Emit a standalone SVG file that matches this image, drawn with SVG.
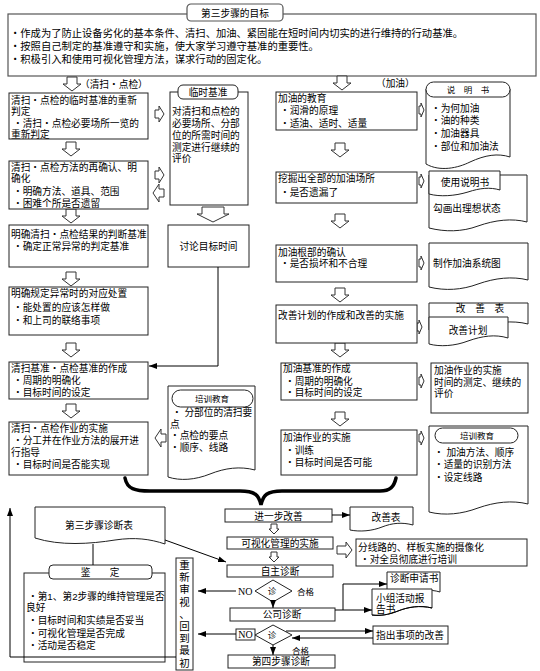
<svg xmlns="http://www.w3.org/2000/svg" width="540" height="671" viewBox="0 0 540 671">
<style>
.t{font-family:"Liberation Sans","Noto Sans CJK SC",sans-serif;font-size:9.7px;fill:#000}
.top{font-size:10.3px}
.sm{font-size:8.5px}
.c{text-anchor:middle}
.serif{font-family:"Liberation Serif","Noto Sans CJK SC",serif;font-size:10px}
.box{fill:#fff;stroke:#222;stroke-width:1}
.gbox{fill:#fff;stroke:#555;stroke-width:1.2}
.ba{fill:#fff;stroke:#333;stroke-width:1}
.ln{fill:none;stroke:#000;stroke-width:1}
.brace{fill:none;stroke:#000;stroke-width:3.5;stroke-linecap:round}
</style>
<defs>
<marker id="ah" markerWidth="8" markerHeight="6" refX="8" refY="3" orient="auto" markerUnits="userSpaceOnUse"><path d="M0,0 L8,3 L0,6 Z" fill="#000"/></marker>
<path id="dA" d="M-5,0 H5 V7 H9 L0,14 L-9,7 H-5 Z"/>
<path id="dW" d="M-11,0 H11 V7 H16 L0,15 L-16,7 H-11 Z"/>
<path id="rA" d="M0,-4 H4 V-8 L9,0 L4,8 V4 H0 Z"/>
<path id="lA" d="M0,-4 H-5 V-9 L-11,0 L-5,9 V4 H0 Z"/>
<path id="nA" d="M0,-4 H2 V-7 L5,0 L2,7 V4 H0 Z"/>
<path id="sdA" d="M-3,0 H3 V5 H5 L0,10 L-5,5 H-3 Z"/>
<path id="rW" d="M0,-4 H9 V-8 L15,0 L9,8 V4 H0 Z"/>
</defs>
<rect width="540" height="671" fill="#fff"/>

<g id="goal">
<rect class="gbox" x="8" y="14" width="528" height="62"/>
<rect class="gbox" x="187" y="4" width="96" height="17" rx="4"/>
<text class="t" x="235" y="16.5" text-anchor="middle">第三步骤的目标</text>
<text class="t top" x="10" y="37">・作成为了防止设备劣化的基本条件、清扫、加油、紧固能在短时间内切实的进行维持的行动基准。</text>
<text class="t top" x="10" y="50">・按照自己制定的基准遵守和实施，使大家学习遵守基准的重要性。</text>
<text class="t top" x="10" y="63">・积极引入和使用可视化管理方法，谋求行动的固定化。</text>
</g>

<g id="block-arrows" class="ba">
<use href="#dA" x="72" y="77"/>
<use href="#dA" x="71" y="142"/>
<use href="#dA" x="71" y="209"/>
<use href="#dA" x="71" y="272"/>
<use href="#dA" x="71" y="343"/>
<use href="#dA" x="71" y="404"/>
<use href="#dW" x="213" y="207"/>
<use href="#rA" x="155" y="114"/>
<use href="#rA" x="155" y="175"/>
<use href="#lA" x="164" y="193"/>
<use href="#lA" x="166" y="438"/>
<use href="#dA" x="342" y="76"/>
<use href="#dA" x="340" y="143"/>
<use href="#dA" x="340" y="214"/>
<use href="#dA" x="340" y="288"/>
<use href="#dA" x="340" y="343"/>
<use href="#dA" x="340" y="412"/>
<use href="#nA" x="419" y="110"/>
<use href="#nA" x="419" y="181"/>
<use href="#nA" x="419" y="263"/>
<use href="#nA" x="417" y="327"/>
<use href="#nA" x="419" y="381"/>
<use href="#nA" x="419" y="438"/>
<use href="#sdA" x="274" y="524"/>
<use href="#sdA" x="274" y="552"/>
<use href="#rW" x="337" y="550"/>
</g>

<g id="labels">
<text class="t" x="80" y="88">（清扫・点检）</text>
<text class="t" x="376" y="87">（加油）</text>
</g>

<g id="a1">
<rect class="box" x="9" y="93" width="139" height="46"/>
<text class="t" x="11" y="104">清扫・点检的临时基准的重新</text>
<text class="t" x="11" y="115">判定</text>
<text class="t" x="13" y="127">・清扫・点检必要场所一览的</text>
<text class="t" x="11" y="138">重新判定</text>
</g>
<g id="a2">
<rect class="box" x="9" y="161" width="139" height="48"/>
<text class="t" x="11" y="171">清扫・点检方法的再确认、明</text>
<text class="t" x="11" y="182">确化</text>
<text class="t" x="13" y="195">・明确方法、道具、范围</text>
<text class="t" x="13" y="206.5">・困难个所是否遗留</text>
</g>
<g id="a3">
<rect class="box" x="9" y="225" width="139" height="42"/>
<text class="t" x="11" y="238">明确清扫・点检结果的判断基准</text>
<text class="t" x="13" y="250">・确定正常异常的判定基准</text>
</g>
<g id="a4">
<rect class="box" x="9" y="287" width="139" height="48"/>
<text class="t" x="11" y="297">明确规定异常时的对应处置</text>
<text class="t" x="13" y="311">・能处置的应该怎样做</text>
<text class="t" x="13" y="324">・和上司的联络事项</text>
</g>
<g id="a5">
<rect class="box" x="9" y="362" width="139" height="37"/>
<text class="t" x="11" y="372">清扫基准・点检基准的作成</text>
<text class="t" x="13" y="384">・周期的明确化</text>
<text class="t" x="13" y="396">・目标时间的设定</text>
</g>
<g id="a6">
<rect class="box" x="9" y="422" width="139" height="53"/>
<text class="t" x="11" y="432">清扫・点检作业的实施</text>
<text class="t" x="13" y="444">・分工并在作业方法的展开进</text>
<text class="t" x="11" y="456">行指导</text>
<text class="t" x="13" y="468">・目标时间是否能实现</text>
</g>

<g id="temp-std">
<rect class="box" x="170" y="92" width="78" height="113"/>
<rect class="box" x="178" y="85" width="60" height="14" rx="5"/>
<text class="t c" x="208" y="96">临时基准</text>
<text class="t" x="172" y="115">对清扫和点检的</text>
<text class="t" x="172" y="127">必要场所、分部</text>
<text class="t" x="172" y="139">位的所需时间的</text>
<text class="t" x="172" y="151">测定进行继续的</text>
<text class="t" x="172" y="162">评价</text>
</g>
<g id="target-time">
<rect class="box" x="168" y="225" width="81" height="42"/>
<text class="t c" x="208.5" y="250">讨论目标时间</text>
</g>
<g id="train-left">
<path class="box" d="M168,386 H255 V470 C240,466 225,468 210,474 C195,480 180,481 168,477 Z"/>
<rect class="box" x="172" y="390" width="81" height="17" rx="8.5"/>
<text class="t sm c" x="212" y="401.5">培训教育</text>
<text class="t" x="172" y="416">・ 分部位的清扫要</text>
<text class="t" x="170" y="428">点</text>
<text class="t" x="170" y="439">・点检的要点</text>
<text class="t" x="170" y="451">・顺序、线路</text>
</g>

<g id="b1">
<rect class="box" x="276" y="92" width="141" height="38"/>
<text class="t" x="278" y="102">加油的教育</text>
<text class="t" x="280" y="114">・润滑的原理</text>
<text class="t" x="280" y="127">・适油、适时、适量</text>
</g>
<g id="manual">
<path class="box" d="M426,89 V164 C440,172 458,168 470,162 C485,155 498,153 510,157 V89 Z"/>
<rect class="box" x="426" y="82" width="84" height="15" rx="7.5"/>
<text class="t sm c" x="468" y="93">说　明　书</text>
<text class="t" x="431" y="112">・为何加油</text>
<text class="t" x="431" y="124">・油的种类</text>
<text class="t" x="431" y="137">・加油器具</text>
<text class="t" x="431" y="150">・部位和加油法</text>
</g>
<g id="b2">
<rect class="box" x="276" y="172" width="141" height="31"/>
<text class="t" x="278" y="182">挖掘出全部的加油场所</text>
<text class="t" x="280" y="196">・是否遗漏了</text>
</g>
<g id="use-manual">
<path class="box" d="M429,175 H527 V222 C512,218 495,220 478,226 C462,232 445,232 429,228 Z"/>
<path class="box" d="M429,171 H500 V190 C490,187 480,188 468,192 C455,196 440,197 429,194 Z"/>
<text class="t c" x="465" y="186">使用说明书</text>
<text class="t" x="433" y="212">勾画出理想状态</text>
</g>
<g id="b3">
<rect class="box" x="276" y="245" width="141" height="37"/>
<text class="t" x="278" y="256">加油根部的确认</text>
<text class="t" x="280" y="267">・是否损坏和不合理</text>
</g>
<g id="system-map">
<path class="box" d="M429,243 H528 V280 C512,276 495,278 478,284 C462,290 445,291 429,287 Z"/>
<text class="t" x="433" y="267">制作加油系统图</text>
</g>
<g id="b4">
<rect class="box" x="276" y="305" width="141" height="38"/>
<text class="t" x="278" y="319">改善计划的作成和改善的实施</text>
</g>
<g id="improve-sheet">
<path class="box" d="M429,303 H528 V324 C512,320 495,322 478,328 C462,333 445,334 429,330 Z"/>
<text class="t c" x="480" y="312">改　善　表</text>
<path class="box" d="M429,317 H508 V338 C495,334 482,336 468,341 C455,346 440,347 429,344 Z"/>
<text class="t c" x="468" y="334">改善计划</text>
</g>
<g id="b5">
<rect class="box" x="281" y="363" width="136" height="37"/>
<text class="t" x="283" y="372">加油基准的作成</text>
<text class="t" x="285" y="385">・周期的明确化</text>
<text class="t" x="285" y="396">・目标时间的设定</text>
</g>
<g id="oil-work">
<rect class="box" x="431" y="363" width="97" height="50"/>
<text class="t" x="434" y="374">加油作业的实施</text>
<text class="t" x="434" y="386">时间的测定、继续的</text>
<text class="t" x="434" y="397">评价</text>
</g>
<g id="b6">
<rect class="box" x="281" y="430" width="136" height="45"/>
<text class="t" x="283" y="441">加油作业的实施</text>
<text class="t" x="285" y="454">・训练</text>
<text class="t" x="285" y="466">・目标时间是否可能</text>
</g>
<g id="train-right">
<path class="box" d="M429,426 H528 V504 C512,500 495,502 478,508 C462,514 445,516 429,512 Z"/>
<rect class="box" x="435" y="428" width="83" height="15" rx="7.5"/>
<text class="t sm c" x="477" y="439">培训教育</text>
<text class="t" x="434" y="456">・ 加油方法、顺序</text>
<text class="t" x="434" y="468">・适量的识别方法</text>
<text class="t" x="434" y="481">・设定线路</text>
</g>

<g id="brace">
<path class="brace" d="M125,478 C127,489 135,491 150,491 L240,491 C255,491 259,495 261,505 C263,495 267,491 282,491 L380,491 C390,491 394,487 396,478"/>
</g>

<g id="further">
<rect class="box" x="225" y="509" width="107" height="13"/>
<text class="t c" x="278.5" y="519.5">进一步改善</text>
</g>
<g id="improve-doc">
<path class="box" d="M350,507 H413 V525 C402,522 392,523 382,527 C372,531 360,532 350,530 Z"/>
<text class="t c" x="386" y="521">改善表</text>
</g>
<g id="visual">
<rect class="box" x="227" y="537" width="106" height="12"/>
<text class="t c" x="280" y="547">可视化管理的实施</text>
</g>
<g id="video">
<rect class="box" x="356" y="539" width="171" height="27"/>
<text class="t" x="358" y="551">分线路的、样板实施的摄像化</text>
<text class="t" x="360" y="563">・对全员彻底进行培训</text>
</g>
<g id="self-diag">
<rect class="box" x="227" y="565" width="106" height="12"/>
<text class="t c" x="280" y="575">自主诊断</text>
</g>
<g id="dec1">
<polygon class="box" points="255,591 273,580 292,591 273,602"/>
<text class="t sm c" x="272" y="594">诊</text>
</g>
<g id="company-diag">
<rect class="box" x="230" y="608" width="105" height="13"/>
<text class="t c" x="282" y="618">公司诊断</text>
</g>
<g id="dec2">
<polygon class="box" points="255,635 273,625 292,635 273,645"/>
<text class="t sm c" x="272" y="638">诊</text>
</g>
<g id="step4">
<rect class="box" x="228" y="655" width="107" height="13"/>
<text class="t c" x="281" y="665">第四步骤诊断</text>
</g>
<g id="point-out">
<rect class="box" x="373" y="626" width="75" height="18"/>
<text class="t c" x="410" y="639">指出事项的改善</text>
</g>
<g id="apply-doc">
<path class="box" d="M387,572 H440 V592 C430,589 420,590 410,594 C400,598 393,598 387,597 Z"/>
<text class="t" x="390" y="582">诊断申请书</text>
</g>
<g id="report-doc">
<path class="box" d="M372,589 H432 V608 C420,605 408,607 398,611 C388,615 380,616 372,615 Z"/>
<text class="t" x="376" y="602">小组活动报</text>
<text class="t" x="376" y="613">告书</text>
<path class="ln" d="M432,608 C420,605 408,607 398,611 C388,615 380,616 372,615"/>
</g>
<g id="diag-sheet">
<path class="box" d="M35,507 H165 V544 C150,539 135,537 115,540 C90,544 60,546 35,538 Z"/>
<text class="t c" x="99" y="529">第三步骤诊断表</text>
</g>
<g id="judge">
<rect class="box" x="24" y="573" width="141" height="89"/>
<rect class="box" x="49" y="565" width="103" height="14" rx="4"/>
<text class="t c" x="100" y="576">鉴　　定</text>
<text class="t" x="28" y="600">・第1、第2步骤的维持管理是否</text>
<text class="t" x="26" y="611">良好</text>
<text class="t" x="28" y="624">・目标时间和实绩是否妥当</text>
<text class="t" x="28" y="637">・可视化管理是否完成</text>
<text class="t" x="28" y="649">・活动是否稳定</text>
</g>
<g id="review">
<rect class="box" x="176" y="558" width="17" height="112"/>
<g class="t c" style="font-size:10.5px">
<text x="184.5" y="569">重</text>
<text x="184.5" y="581">新</text>
<text x="184.5" y="593">审</text>
<text x="184.5" y="606">视</text>
<text x="184.5" y="618">、</text>
<text x="184.5" y="630">回</text>
<text x="184.5" y="642">到</text>
<text x="184.5" y="654">最</text>
<text x="184.5" y="667">初</text>
</g>
</g>

<g id="decision-labels">
<text class="serif" x="238" y="595">NO</text>
<text class="t sm" x="297" y="595">合格</text>
<rect class="box" x="236" y="629" width="19" height="11"/>
<text class="serif c" x="245.5" y="638">NO</text>
<text class="t sm" x="292" y="654">合格</text>
</g>

<g id="connectors" class="ln">
<path d="M218,267 V366 H149" marker-end="url(#ah)"/>
<path d="M332,515 H350" marker-end="url(#ah)"/>
<path d="M165,540 L226,562" marker-end="url(#ah)"/>
<path d="M93,544 V565"/>
<path d="M236,591 H198" marker-end="url(#ah)"/>
<path d="M273,602 V608" marker-end="url(#ah)"/>
<path d="M236,634 H198" marker-end="url(#ah)"/>
<path d="M286,631 H373" marker-end="url(#ah)"/>
<path d="M373,638 H292" marker-end="url(#ah)"/>
<path d="M273,645 V655" marker-end="url(#ah)"/>
<path d="M335,610 H372" marker-end="url(#ah)"/>
<path d="M343,610 V584 H387" marker-end="url(#ah)"/>
<path d="M176,657 H10 V508" marker-end="url(#ah)"/>
</g>
</svg>
